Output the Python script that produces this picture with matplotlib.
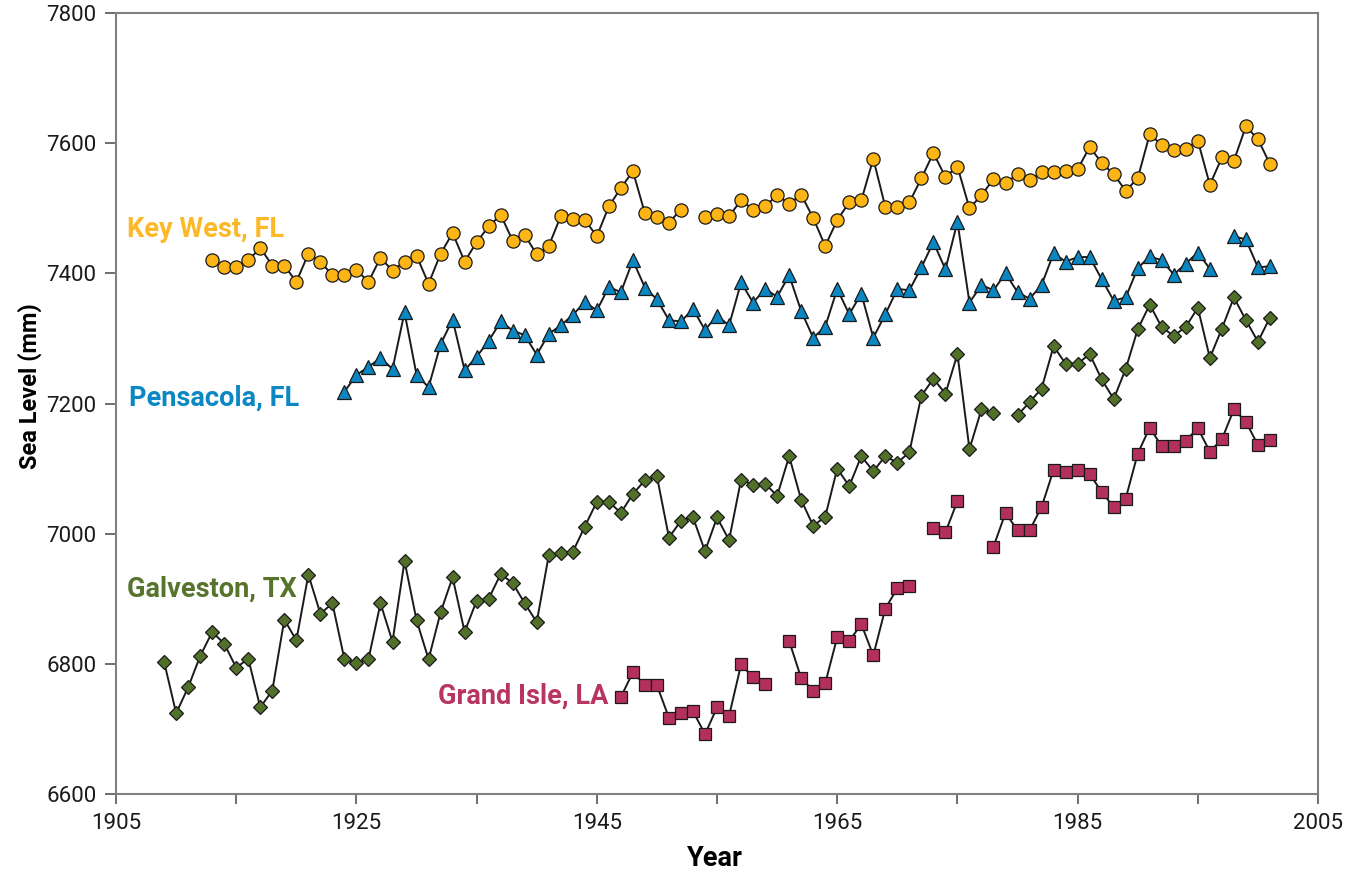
import numpy as np
import matplotlib
matplotlib.use("Agg")
import matplotlib.pyplot as plt

plt.rcParams['font.family'] = ['Roboto', 'DejaVu Sans']

# --- Data (annual mean sea level, mm); nan = missing year ---
nan = np.nan

key_west_years = list(range(1913, 2002))
key_west = [7420, 7410, 7410, 7420, 7439, 7412, 7412, 7387, 7430, 7418,
            7397, 7398, 7405, 7387, 7424, 7404, 7418, 7427, 7384, 7430,
            7462, 7418, 7448, 7472, 7490, 7450, 7459, 7429, 7442, 7488,
            7483, 7482, 7457, 7503, 7531, 7557, 7492, 7486, 7478, 7498,
            nan, 7486, 7491, 7488, 7512, 7498, 7503, 7520, 7507, 7521,
            7485, 7442, 7482, 7509, 7512, 7576, 7502, 7502, 7509, 7546,
            7585, 7548, 7564, 7500, 7520, 7545, 7539, 7552, 7543, 7555,
            7555, 7557, 7560, 7594, 7570, 7552, 7527, 7546, 7614, 7597,
            7590, 7591, 7604, 7536, 7578, 7573, 7626, 7606, 7568]

pensacola_years = list(range(1924, 2002))
pensacola = [7218, 7244, 7256, 7270, 7253, 7340, 7244, 7225, 7291, 7329,
             7251, 7272, 7296, 7326, 7312, 7305, 7275, 7307, 7320, 7336,
             7356, 7343, 7379, 7371, 7420, 7378, 7360, 7328, 7326, 7345,
             7313, 7335, 7320, 7386, 7355, 7376, 7364, 7397, 7342, 7301,
             7318, 7376, 7337, 7369, 7301, 7337, 7376, 7374, 7409, 7448,
             7406, 7479, 7355, 7382, 7374, 7400, 7371, 7361, 7382, 7431,
             7418, 7425, 7425, 7391, 7358, 7363, 7408, 7426, 7420, 7398,
             7415, 7432, 7407, nan, 7457, 7452, 7409, 7411]

galveston_years = list(range(1909, 2002))
galveston = [6803, 6724, 6764, 6812, 6849, 6831, 6794, 6808, 6733, 6759,
             6868, 6836, 6937, 6877, 6893, 6807, 6801, 6807, 6893, 6834,
             6958, 6867, 6807, 6879, 6933, 6849, 6897, 6900, 6938, 6924,
             6893, 6864, 6967, 6970, 6972, 7011, 7049, 7049, 7032, 7061,
             7082, 7088, 6994, 7020, 7025, 6973, 7025, 6990, 7083, 7075,
             7077, 7058, 7119, 7052, 7012, 7026, 7100, 7073, 7119, 7096,
             7119, 7109, 7125, 7212, 7238, 7215, 7276, 7130, 7191, 7185,
             nan, 7182, 7202, 7223, 7288, 7261, 7261, 7276, 7237, 7207,
             7253, 7314, 7352, 7317, 7304, 7318, 7347, 7270, 7315, 7363,
             7328, 7295, 7332]

grand_isle_years = list(range(1947, 2002))
grand_isle = [6749, 6787, 6767, 6767, 6717, 6724, 6727, 6692, 6733, 6720,
              6799, 6779, 6769, nan, 6835, 6778, 6759, 6770, 6841, 6835,
              6861, 6813, 6885, 6916, 6919, nan, 7009, 7002, 7050, nan,
              nan, 6980, 7032, 7005, 7005, 7041, 7098, 7095, 7098, 7092,
              7064, 7041, 7054, 7123, 7163, 7134, 7134, 7143, 7162, 7126,
              7145, 7191, 7172, 7136, 7144]

x_ticks = list(range(1905, 2006, 10))
x_labels = [str(y) if (y - 1905) % 20 == 0 else "" for y in x_ticks]
y_ticks = list(range(6600, 7801, 200))

# --- Figure ---
fig = plt.figure(figsize=(13.51, 8.73), dpi=100)
ax = fig.add_axes([0.0859, 0.0905, 0.8897, 0.8946])

series = [
    (key_west_years, key_west, 'o', '#FDB515', 9.5),
    (pensacola_years, pensacola, '^', '#0A86C2', 10),
    (galveston_years, galveston, 'D', '#51702A', 7),
    (grand_isle_years, grand_isle, 's', '#B3305D', 8),
]
for yrs, vals, mk, col, ms in series:
    ax.plot(yrs, np.array(vals, dtype=float), color='#1a1a1a', lw=1.4,
            marker=mk, markersize=ms, markerfacecolor=col,
            markeredgecolor='#1a1a1a', markeredgewidth=0.9, zorder=3)

ax.set_xlim(1905, 2005)
ax.set_ylim(6600, 7800)
ax.set_xticks(x_ticks)
ax.set_xticklabels(x_labels)
ax.set_yticks(y_ticks)

for s in ax.spines.values():
    s.set_color('#808080')
    s.set_linewidth(1.5)
ax.tick_params(axis='y', direction='out', length=8, width=1.2,
               color='#555555', labelsize=16, pad=6, labelcolor='#1a1a1a')
ax.tick_params(axis='x', direction='out', length=7, width=1.2,
               color='#555555', labelsize=16, pad=7, labelcolor='#1a1a1a')

ax.set_xlabel("Year", fontsize=19.5, fontweight='bold', va='center')
ax.xaxis.set_label_coords(0.4985, -0.082)
ax.set_ylabel("Sea Level (mm)", fontsize=17, fontweight='bold', va='center')
ax.yaxis.set_label_coords(-0.072, 0.522)

# --- Series labels ---
lbl = dict(fontsize=19.5, fontweight='bold', va='center')
ax.text(1905.95, 7468, "Key West, FL", color='#FDB827', ha='left', **lbl)
ax.text(1906.1, 7208, "Pensacola, FL", color='#0B87C4', ha='left', **lbl)
ax.text(1905.95, 6915, "Galveston, TX", color='#56742B', ha='left', **lbl)
ax.text(1946.0, 6750, "Grand Isle, LA", color='#B7355F', ha='right', **lbl)

fig.savefig("out.png", dpi=100)
